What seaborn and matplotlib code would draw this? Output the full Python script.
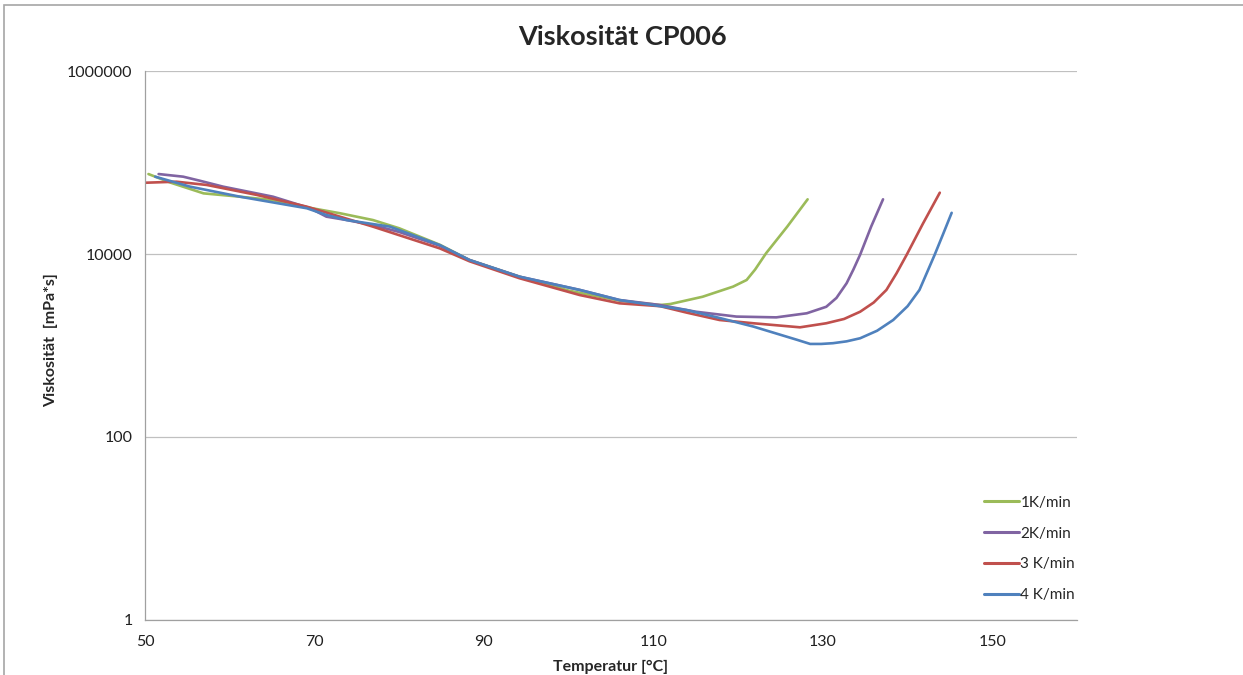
import matplotlib
matplotlib.use("Agg")
import matplotlib.pyplot as plt
import matplotlib.ticker as mticker
import pandas as pd
import seaborn as sns
from matplotlib.patches import Rectangle

# Viskosität CP006 (mPa*s vs. °C)
t_1k = [50.4, 53.0, 56.9, 61.2, 65.0, 69.1, 73.0, 76.9, 80.0, 84.8, 88.3, 94.2,
        100.0, 106.0, 110.8, 112.0, 115.8, 119.4, 121.0, 122.0, 123.3, 125.8, 128.2]
v_1k = [74800, 60300, 46000, 42300, 38900, 32400, 27900, 23500, 19100, 12600, 8590, 5650,
        3980, 3090, 2770, 2840, 3410, 4400, 5200, 6760, 10200, 19950, 39600]

t_2k = [51.6, 54.5, 56.5, 59.2, 65.1, 69.5, 71.4, 73.8, 76.9, 80.0, 84.8, 88.3,
        94.2, 101.3, 106.0, 110.8, 115.0, 119.8, 124.5, 128.1, 130.4, 131.6, 132.8,
        133.6, 134.4, 135.7, 137.1]
v_2k = [74800, 70000, 63100, 54500, 42300, 31600, 25600, 23500, 20700, 17400, 12300, 8590,
        5650, 4050, 3140, 2770, 2340, 2070, 2030, 2250, 2650, 3310, 4790,
        6760, 9840, 19950, 39600]

t_3k = [50.0, 53.7, 57.3, 63.2, 69.1, 76.9, 84.8, 88.3, 94.2, 101.3, 106.0, 110.8,
        113.9, 117.8, 121.8, 127.3, 130.4, 132.5, 134.4, 136.0, 137.5, 138.7, 139.9,
        141.8, 143.8]
v_3k = [60100, 61700, 56800, 44200, 32900, 19900, 11500, 8320, 5430, 3560, 2890, 2690,
        2290, 1900, 1750, 1580, 1750, 1950, 2340, 2950, 4050, 6170, 9840,
        21400, 46800]

t_4k = [51.2, 55.3, 61.2, 69.1, 71.4, 73.8, 78.9, 84.8, 88.3, 94.2, 101.3, 106.0,
        110.8, 113.9, 117.8, 121.8, 127.0, 128.5, 129.8, 131.2, 132.8, 134.4, 136.4,
        138.3, 140.0, 141.4, 142.3, 143.2, 144.2, 145.2]
v_4k = [70000, 54500, 42300, 31600, 26700, 23500, 19900, 12500, 8590, 5650, 4050, 3140,
        2690, 2440, 2000, 1610, 1150, 1040, 1040, 1060, 1110, 1200, 1450,
        1900, 2690, 4050, 6310, 9840, 16600, 28200]

labels = ["1K/min", "2K/min", "3 K/min", "4 K/min"]
colors = ["#9BBB59", "#8064A2", "#C0504D", "#4F81BD"]
x_ticks = [50, 70, 90, 110, 130, 150]
y_ticks = [1, 100, 10000, 1000000]

frames = []
for lab, t, v in zip(labels, [t_1k, t_2k, t_3k, t_4k], [v_1k, v_2k, v_3k, v_4k]):
    frames.append(pd.DataFrame({"Temperatur": t, "Viskosität": v, "Rate": lab}))
df = pd.concat(frames, ignore_index=True)

sns.set_style("white")
plt.rcParams["font.family"] = ["Lato", "DejaVu Sans"]

fig = plt.figure(figsize=(12.43, 6.75), dpi=100)
ax = fig.add_axes([0.1167, 0.0815, 0.7498, 0.8133])

sns.lineplot(data=df, x="Temperatur", y="Viskosität", hue="Rate", hue_order=labels,
             palette=colors, sort=False, estimator=None, units="Rate", lw=1.9, ax=ax)

ax.set_yscale("log")
ax.set_xlim(50, 160)
ax.set_ylim(1, 1000000)
ax.set_xticks(x_ticks)
ax.set_yticks(y_ticks)
ax.yaxis.set_major_formatter(mticker.FuncFormatter(lambda v, p: f"{int(round(v))}"))
ax.yaxis.set_minor_locator(mticker.NullLocator())
ax.tick_params(axis="both", labelsize=11.5, colors="#A0A0A0", length=5, width=0.8,
               direction="out")
ax.tick_params(axis="x", pad=6)
ax.tick_params(axis="y", pad=4)
for lab in ax.get_xticklabels() + ax.get_yticklabels():
    lab.set_color("#202020")

ax.grid(axis="y", color="#C0C0C0", lw=0.9)
ax.set_axisbelow(True)
for side in ["top", "right"]:
    ax.spines[side].set_visible(False)
for side in ["left", "bottom"]:
    ax.spines[side].set_color("#A0A0A0")
    ax.spines[side].set_linewidth(0.9)

ax.set_xlabel("Temperatur [°C]", fontsize=11.5, fontweight="bold")
ax.set_ylabel("Viskosität  [mPa*s]", fontsize=11.5, fontweight="bold")
ax.xaxis.set_label_coords(0.5, -0.073)
ax.yaxis.set_label_coords(-0.093, 0.51)

fig.text(0.501, 1 - 37 / 675, "Viskosität CP006", ha="center", va="center",
         fontsize=19.5, fontweight="bold")

leg = ax.legend(loc="center left", bbox_to_anchor=(970 / 1243, 1 - 549 / 675),
                bbox_transform=fig.transFigure, frameon=False, fontsize=11,
                handlelength=2.3, handletextpad=0.1, labelspacing=1.1)
for line in leg.get_lines():
    line.set_linewidth(2.2)

fig.add_artist(Rectangle((4 / 1243, -0.05), 1.2, 1 - 5 / 675 + 0.05, transform=fig.transFigure,
                         fill=False, edgecolor="#A6A6A6", lw=1.2))

fig.savefig("out.png", dpi=100)
